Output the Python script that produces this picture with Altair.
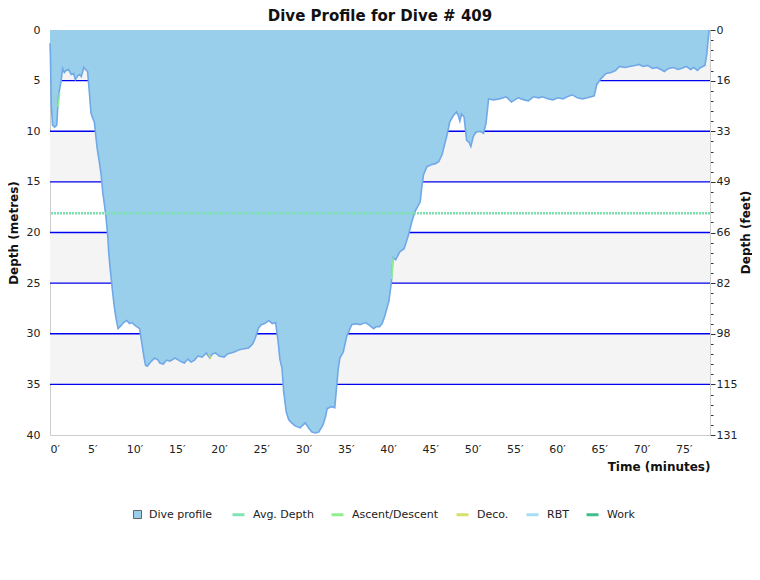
import altair as alt
import pandas as pd

# dive profile (minutes, metres)
time_min = [0.0, 0.05, 0.15, 0.3, 0.55, 0.8, 1.0, 1.3, 1.5, 1.7, 1.9, 2.2, 2.5, 2.8, 3.0, 3.3,
            3.5, 3.7, 4.0, 4.2, 4.45, 4.65, 4.85, 5.0, 5.25, 5.45, 5.6, 5.85, 6.05, 6.25, 6.45,
            6.65, 6.85, 6.95, 7.1, 7.25, 7.45, 7.6, 7.8, 8.05, 8.4, 8.7, 9.1, 9.4, 9.7, 10.1,
            10.6, 10.9, 11.1, 11.3, 11.5, 11.7, 12.0, 12.4, 12.8, 13.0, 13.4, 13.8, 14.2, 14.8,
            15.2, 15.6, 15.9, 16.3, 16.7, 17.1, 17.5, 18.0, 18.5, 18.9, 19.2, 19.6, 20.0, 20.6,
            21.0, 21.4, 21.8, 22.3, 22.8, 23.5, 24.0, 24.3, 24.7, 25.0, 25.4, 25.9, 26.3, 26.7,
            27.0, 27.2, 27.45, 27.65, 27.95, 28.25, 28.6, 29.0, 29.6, 30.2, 30.6, 31.0, 31.4,
            31.8, 32.3, 32.6, 32.8, 33.3, 33.7, 33.9, 34.1, 34.3, 34.7, 35.1, 35.7, 36.2, 36.7,
            37.3, 37.7, 38.3, 38.6, 39.0, 39.3, 39.6, 40.1, 40.4, 40.6, 40.9, 41.4, 41.9, 42.4,
            42.8, 43.2, 43.8, 44.0, 44.2, 44.6, 45.1, 45.6, 46.0, 46.4, 46.7, 47.0, 47.3, 47.7,
            48.1, 48.3, 48.5, 48.7, 49.0, 49.3, 49.6, 49.8, 50.1, 50.4, 50.9, 51.3, 51.6, 51.9,
            52.5, 53.2, 54.0, 54.6, 55.0, 55.4, 56.1, 56.6, 57.2, 57.8, 58.3, 58.9, 59.5, 60.1,
            60.7, 61.2, 61.8, 62.4, 63.0, 63.6, 64.4, 64.7, 65.2, 65.8, 66.4, 66.9, 67.4, 68.0,
            68.6, 69.2, 69.7, 70.2, 70.7, 71.3, 71.8, 72.3, 72.7, 73.2, 73.8, 74.3, 74.7, 75.3,
            75.8, 76.2, 76.6, 77.0, 77.5, 77.7, 77.85, 78.0]
depth_m = [1.3, 2.5, 7.4, 9.4, 9.6, 9.4, 6.5, 5.1, 3.8, 4.2, 4.0, 3.9, 4.4, 4.3, 4.9, 4.5,
           4.4, 4.6, 3.7, 3.9, 4.1, 6.1, 8.2, 8.6, 9.1, 10.7, 11.8, 13.1, 14.3, 16.1, 17.3,
           18.7, 20.5, 22.0, 23.4, 24.6, 26.2, 27.3, 28.4, 29.5, 29.2, 28.9, 28.7, 29.0, 28.9, 29.2,
           29.5, 31.1, 32.2, 33.1, 33.2, 33.0, 32.7, 32.4, 32.6, 32.9, 33.0, 32.6, 32.7, 32.4,
           32.6, 32.8, 32.9, 32.5, 32.8, 32.6, 32.2, 32.3, 31.9, 32.4, 32.0, 31.9, 32.2, 32.3,
           32.0, 31.9, 31.8, 31.6, 31.5, 31.4, 31.0, 30.4, 29.4, 29.1, 29.0, 28.7, 29.0, 28.9,
           30.8, 32.5, 33.4, 35.7, 37.7, 38.5, 38.8, 39.1, 39.3, 38.8, 39.3, 39.7, 39.8,
           39.7, 39.0, 38.2, 37.4, 37.2, 37.3, 35.4, 33.5, 32.4, 31.8, 30.3, 29.1, 29.0, 29.1,
           28.9, 29.1, 29.5, 29.3, 29.3, 29.0, 28.3, 26.8, 24.9, 22.5, 22.7, 21.9, 21.6, 20.3,
           19.0, 17.9, 17.0, 15.5, 14.3, 13.5, 13.3, 13.2, 13.0, 12.3, 11.3, 10.3, 9.1, 8.5,
           8.1, 8.4, 9.0, 8.3, 8.6, 10.9, 11.1, 11.5, 10.5, 10.1, 10.0, 10.2, 9.2, 6.8,
           6.9, 6.8, 6.6, 7.1, 6.9, 6.7, 6.9, 7.0, 6.6, 6.7, 6.6, 6.8, 6.9, 6.7,
           6.8, 6.6, 6.4, 6.7, 6.8, 6.7, 6.5, 5.4, 4.8, 4.3, 4.2, 4.0, 3.6, 3.7,
           3.6, 3.5, 3.4, 3.6, 3.5, 3.8, 3.7, 3.9, 4.1, 3.8, 3.7, 3.9, 3.8, 3.6,
           3.9, 3.7, 4.0, 3.7, 3.5, 2.5, 1.2, 0.0]

avg_depth = 18.1

# short coloured stretches of the profile line
ascent_seg = [1, 1, 2, 2]
ascent_time = [0.95, 1.15, 40.45, 40.6]
ascent_depth = [7.6, 6.2, 24.6, 22.5]
deco_time = [18.8, 19.0]
deco_depth = [32.0, 32.5]

band_top = [0, 10, 20, 30]
band_bottom = [5, 15, 25, 35]
grid_depths = [5, 10, 15, 20, 25, 30, 35]

profile_label = ['Dive profile']
profile_color = ['#99CFEA']
line_series = ['Avg. Depth', 'Ascent/Descent', 'Deco.', 'RBT', 'Work']
line_colors = ['#80E3B4', '#90EE90', '#D6E06A', '#A6DDF5', '#3DBE8B']

FONT = 'DejaVu Sans'

profile = pd.DataFrame({'t': time_min, 'depth': depth_m})
bands = pd.DataFrame({'top': band_top, 'bottom': band_bottom})
grid = pd.DataFrame({'depth': grid_depths})
ascent = pd.DataFrame({'seg': ascent_seg, 't': ascent_time, 'depth': ascent_depth})
deco = pd.DataFrame({'t': deco_time, 'depth': deco_depth})
avg = pd.DataFrame({'depth': [avg_depth]})
# legend-only rows: the null time keeps them off the plot
profile_key = pd.DataFrame({'kind': profile_label, 't': [None]})
line_key = pd.DataFrame({'series': line_series, 't': [None] * len(line_series)})

x_scale = alt.Scale(domain=[0, 78.1], nice=False)
y_scale = alt.Scale(domain=[0, 40], reverse=True, nice=False)

x_enc = alt.X('t:Q', scale=x_scale, title='Time (minutes)',
              axis=alt.Axis(values=list(range(0, 80, 5)), labelExpr="datum.value + '\u2032'",
                            ticks=False, grid=False, domain=False, labelPadding=8,
                            titleAnchor='end', titleAlign='right', titlePadding=7))

left_axis = alt.Axis(values=list(range(0, 45, 5)), ticks=False, grid=False,
                     domainColor='#cccccc', labelPadding=10, title='Depth (metres)',
                     titlePadding=6)
right_axis = alt.Axis(orient='right', values=list(range(0, 41)), grid=False,
                      labelExpr="datum.value % 5 == 0 ? format(datum.value * 3.28084, '.0f') : ''",
                      tickSize={'condition': {'test': 'datum.value % 5 == 0', 'value': 5}, 'value': 3},
                      tickColor='#333333', domainColor='#cccccc', labelOverlap=False,
                      labelPadding=1, title='Depth (feet)', titleAngle=270,
                      titleX=35, titleY=202, titleAlign='center', titleBaseline='middle')

band_layer = alt.Chart(bands).mark_rect(color='#f4f4f4').encode(
    y=alt.Y('top:Q', scale=y_scale, axis=None), y2='bottom:Q')

grid_layer = alt.Chart(grid).mark_rule(color='#0000ee', strokeWidth=1.3).encode(
    y=alt.Y('depth:Q', scale=y_scale, axis=None))

area_layer = alt.Chart(profile).mark_area(color='#99CFEA').encode(
    x=x_enc, y=alt.Y('depth:Q', scale=y_scale, axis=left_axis))

line_layer = alt.Chart(profile).mark_line(color='#70A8E8', strokeWidth=1.6).encode(
    x=x_enc, y=alt.Y('depth:Q', scale=y_scale, axis=right_axis))

ascent_layer = alt.Chart(ascent).mark_line(color='#90EE90', strokeWidth=1.6).encode(
    x=x_enc, y=alt.Y('depth:Q', scale=y_scale, axis=None), detail='seg:N')

deco_layer = alt.Chart(deco).mark_line(color='#C8D860', strokeWidth=1.6).encode(
    x=x_enc, y=alt.Y('depth:Q', scale=y_scale, axis=None))

avg_layer = alt.Chart(avg).mark_rule(color='#7DE0B0', strokeWidth=2.5, strokeDash=[2, 1]).encode(
    y=alt.Y('depth:Q', scale=y_scale, axis=None))

profile_key_layer = alt.Chart(profile_key).mark_square(
    filled=True, opacity=1, stroke='#666666', strokeWidth=1, size=64
).encode(
    x=x_enc,
    fill=alt.Fill('kind:N', scale=alt.Scale(domain=profile_label, range=profile_color),
                  legend=alt.Legend(orient='none', legendX=82, legendY=479, title=None,
                                    symbolType='square', symbolSize=64, symbolStrokeWidth=1,
                                    symbolStrokeColor='#666666', labelFont=FONT,
                                    labelFontSize=11, labelColor='#222222', labelOffset=6,
                                    padding=0)),
)

line_key_layer = alt.Chart(line_key).mark_point(
    shape='stroke', filled=False, opacity=1, strokeWidth=3, size=144
).encode(
    x=x_enc,
    stroke=alt.Stroke('series:N', scale=alt.Scale(domain=line_series, range=line_colors),
                      legend=alt.Legend(orient='none', legendX=181, legendY=477, title=None,
                                        direction='horizontal', symbolType='stroke',
                                        symbolSize=144, symbolStrokeWidth=3, labelFont=FONT,
                                        labelFontSize=11, labelColor='#222222', labelOffset=7,
                                        columnPadding=11, padding=0)),
)

chart = alt.layer(
    band_layer, grid_layer, area_layer, line_layer, ascent_layer, deco_layer, avg_layer,
    profile_key_layer, line_key_layer
).resolve_axis(y='independent').properties(
    width=660,
    height=405,
    autosize=alt.AutoSizeParams(type='none'),
    padding={'left': 42, 'top': 22, 'right': 42, 'bottom': 137},
    title=alt.Title('Dive Profile for Dive # 409', font=FONT, fontSize=15, fontWeight='bold',
                    color='#111111', frame='group', offset=6, dy=6, anchor='middle'),
).configure_view(
    stroke='#cccccc'
).configure_axis(
    labelFont=FONT, labelFontSize=11, labelColor='#222222',
    titleFont=FONT, titleFontSize=12, titleFontWeight='bold', titleColor='#111111'
)

chart.save("out.html", embed_options={"renderer": "svg", "actions": False})
